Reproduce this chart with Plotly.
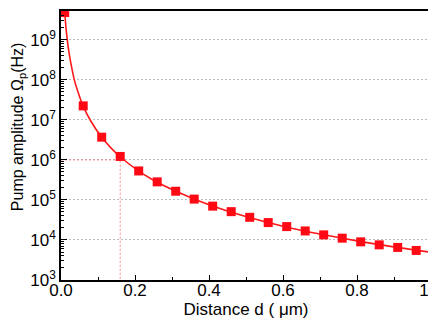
import plotly.graph_objects as go

# Measured data points (distance in um, pump amplitude in Hz)
marker_d = [0.01, 0.06, 0.11, 0.16, 0.21, 0.26, 0.31, 0.36, 0.41, 0.46,
            0.51, 0.56, 0.61, 0.66, 0.71, 0.76, 0.81, 0.86, 0.91, 0.96]
marker_omega = [4.8e9, 2.24e7, 3.7e6, 1.22e6, 5.3e5, 2.83e5, 1.65e5, 1.05e5, 7.0e4, 5.1e4,
                3.68e4, 2.72e4, 2.16e4, 1.68e4, 1.34e4, 1.11e4, 8.98e3, 7.55e3, 6.51e3, 5.48e3]

# Fitted curve
fit_d = [0.01, 0.014, 0.017, 0.021, 0.027, 0.036, 0.045, 0.06, 0.08, 0.11,
         0.16, 0.25, 0.4, 0.6, 0.8, 1.0]
fit_omega = [4.8e9, 1.8e9, 1.0e9, 5.2e8, 2.5e8, 1.0e8, 5.3e7, 2.2e7, 9.5e6, 3.7e6,
             1.2e6, 3.1e5, 7.6e4, 2.2e4, 9.5e3, 4.9e3]

# Guide lines marking d = 0.16 um -> 1e6 Hz
guide_d = [0.0, 0.16, 0.16]
guide_omega = [1e6, 1e6, 1e3]

# Y tick values and labels
y_tickvals = [1e3, 1e4, 1e5, 1e6, 1e7, 1e8, 1e9]
y_ticktext = ["10<sup>3</sup>", "10<sup>4</sup>", "10<sup>5</sup>", "10<sup>6</sup>",
              "10<sup>7</sup>", "10<sup>8</sup>", "10<sup>9</sup>"]
# Minor tick positions on the log axis
minor_y = [m * v for v in y_tickvals for m in range(2, 10)]

FONT = "Liberation Sans, Arial, sans-serif"

fig = go.Figure()
fig.add_trace(go.Scatter(x=guide_d, y=guide_omega, mode="lines",
                         line=dict(color="rgba(255,110,110,0.8)", width=1, dash="2px,2px"),
                         hoverinfo="skip", showlegend=False))
fig.add_trace(go.Scatter(x=fit_d, y=fit_omega, mode="lines",
                         line=dict(color="#ff1a1a", width=1.6, shape="spline", smoothing=0.8),
                         showlegend=False))
fig.add_trace(go.Scatter(x=marker_d, y=marker_omega, mode="markers",
                         marker=dict(symbol="square", size=9, color="#ff0a14",
                                     line=dict(width=0)),
                         showlegend=False))

fig.update_layout(
    width=436, height=320,
    margin=dict(l=53, r=13, t=1, b=48),
    paper_bgcolor="white", plot_bgcolor="white",
    font=dict(family=FONT, size=17, color="black"),
    showlegend=False,
    xaxis=dict(
        range=[0, 1.0], dtick=0.2, tickformat=".1f",
        ticks="inside", ticklen=5, tickwidth=1.2, tickcolor="black",
        minor=dict(dtick=0.1, ticks="inside", ticklen=3, tickcolor="black", showgrid=False),
        showline=True, linecolor="black", linewidth=1.5, mirror=True,
        showgrid=False, zeroline=False,
        ticklabelstandoff=-6,
        title=dict(text="Distance d ( μm)", font=dict(family=FONT, size=17), standoff=2),
        tickfont=dict(family=FONT, size=17),
    ),
    yaxis=dict(
        type="log", range=[3, 9.72],
        tickmode="array", tickvals=y_tickvals, ticktext=y_ticktext,
        ticks="inside", ticklen=6, tickwidth=1.2, tickcolor="black",
        minor=dict(tickmode="array", tickvals=minor_y, ticks="inside", ticklen=3,
                   tickcolor="black", showgrid=False),
        showline=True, linecolor="black", linewidth=1.5, mirror=True,
        showgrid=True, gridcolor="#b4bcc4", gridwidth=1, griddash="2px,2px",
        zeroline=False,
        tickfont=dict(family=FONT, size=17),
    ),
    annotations=[dict(
        text="Pump amplitude Ω<sub>p</sub>(Hz)", textangle=-90,
        xref="paper", yref="paper", x=(10 - 53) / 370, y=(272 - 118) / 271,
        xanchor="center", yanchor="middle", showarrow=False,
        font=dict(family=FONT, size=16, color="black"),
    )],
)

fig.write_html("out.html")
